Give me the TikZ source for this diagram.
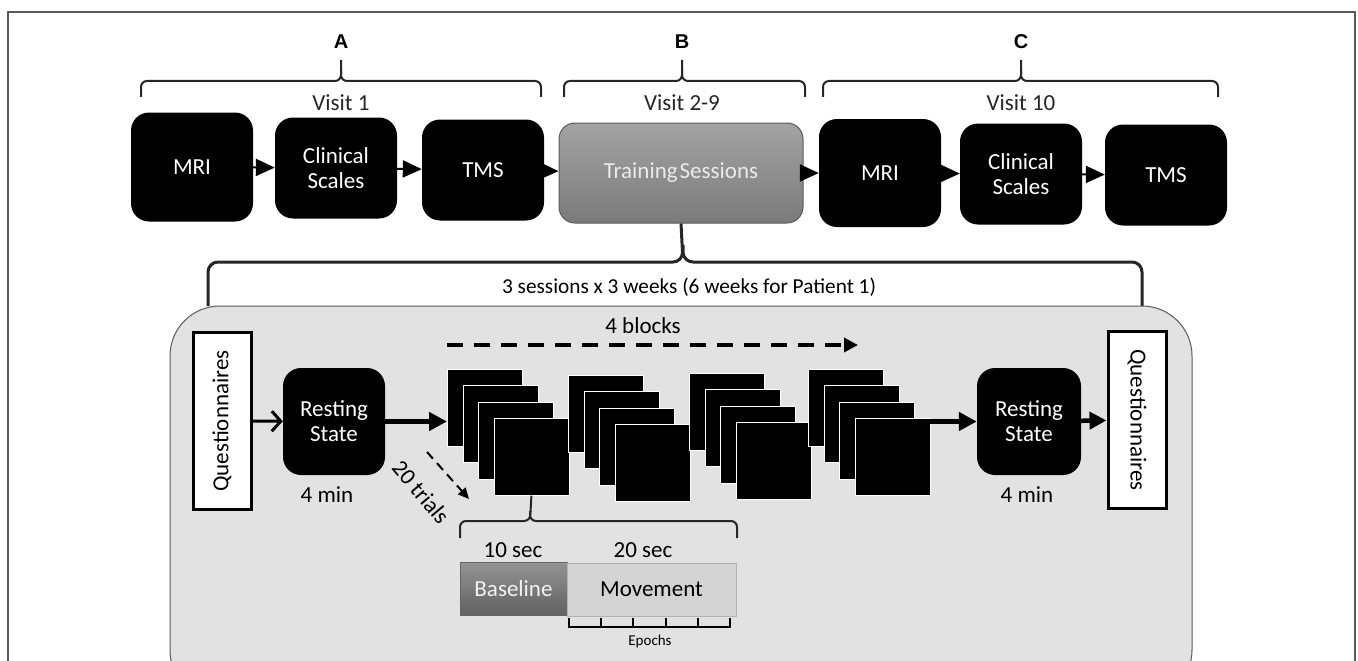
\documentclass[tikz,border=0pt]{standalone}
\usepackage{fontspec}
\setmainfont{Carlito}
\newfontfamily\headfont{Liberation Sans}
\usetikzlibrary{arrows.meta}

\definecolor{panelgray}{HTML}{E2E2E2}
\definecolor{framegray}{HTML}{5A5A5A}

\begin{document}
\begin{tikzpicture}[x=1pt,y=-1pt,
    every node/.style={font=\fontsize{23}{25}\selectfont},
    blackbox/.style={fill=black,text=white,rounded corners=18pt,align=center,
      minimum width=122pt,minimum height=101pt,inner sep=0pt},
    qbox/.style={draw=black,line width=3pt,fill=white,minimum width=177pt,
      minimum height=58pt,inner sep=0pt},
    card/.style={fill=black,draw=white,line width=0.8pt,minimum width=75pt,
      minimum height=77pt,inner sep=0pt,anchor=north west},
    smallhead/.style={-{Triangle[length=19pt,width=17pt]},line width=2pt},
    bighead/.style={-{Triangle[length=18pt,width=18pt]},line width=4.5pt},
    bracepath/.style={line width=2pt,rounded corners=6pt,draw=black!85}]
  \useasboundingbox (0,0) rectangle (1358,661);
  \draw[framegray,line width=1.2pt] (8,662) -- (8,12) -- (1355,12) -- (1355,662);

  % top row
  \node[blackbox,minimum height=109pt] (mri1) at (192,167) {MRI};
  \node[blackbox] (clin1) at (336,168) {Clinical\\Scales};
  \node[blackbox] (tms1) at (483,170) {TMS};
  \node[rounded corners=16pt,draw=framegray,line width=1pt,top color=black!36,
    bottom color=black!52,text=black!8,minimum width=244pt,minimum height=100pt]
    (train) at (681,173) {Training\hspace{2pt}Sessions};
  \node[blackbox,minimum height=108pt] (mri2) at (880,173) {MRI};
  \node[blackbox] (clin2) at (1021,174) {Clinical\\Scales};
  \node[blackbox] (tms2) at (1166,175) {TMS};
  \draw[smallhead] (mri1) -- (clin1);
  \draw[smallhead] (clin1) -- (tms1);
  \draw[smallhead] (tms1) -- (train);
  \draw[smallhead] (train) -- (mri2);
  \draw[smallhead] (mri2) -- (clin2);
  \draw[smallhead] (clin2) -- (tms2);

  \foreach \n/\a/\b/\c/\v in {A/141/341/541/Visit 1, B/564/682/805/Visit 2-9,
      C/823/1021/1218/Visit 10} {
    \node[font=\headfont\bfseries\fontsize{20}{22}\selectfont] (lab\n) at (\b,42) {\n};
    \draw[bracepath] (\a,97) |- (\b,81) -- (\b,60);
    \draw[bracepath] (\c,97) |- (\b,81) -- (\b,70);
    \node[text=black!85] (visit\n) at (\b,103) {\v};
  }

  % training session panel
  \draw[bracepath,line width=3pt,rounded corners=10pt] (208,306) |- (683,262) -- (train.south);
  \draw[bracepath,line width=3pt,rounded corners=10pt] (1142,306) |- (683,262) -- (683,245);
  \node[font=\fontsize{21.3}{23}\selectfont] (weeks) at (689,287)
    {3 sessions x 3 weeks (6 weeks for Patient 1)};
  \draw[framegray,fill=panelgray,line width=1pt,rounded corners=50pt]
    (170,306) rectangle (1192,700);

  \node[qbox,rotate=90] (quest1) at (222,421) {Questionnaires};
  \node[blackbox,minimum width=102pt,minimum height=107pt] (rest1) at (334,421.5) {Resting\\State};
  \node (min1) at (327,495) {4 min};
  \node[blackbox,minimum width=104pt,minimum height=107pt] (rest2) at (1029,421.5) {Resting\\State};
  \node (min2) at (1027,495) {4 min};
  \node[qbox,rotate=-90] (quest2) at (1137,420) {Questionnaires};

  \foreach \s/\x/\y in {1/447/369, 2/568/375, 3/689/373, 4/808/369}
    \foreach \k in {1,...,4}
      \node[card] (blk\s-\k) at ({\x+15.5*(\k-1)},{\y+16.3*(\k-1)}) {};

  \draw[-{Straight Barb[length=9pt,width=20pt]},line width=3pt] (quest1) -- (rest1);
  \draw[bighead] (rest1.east) -- (rest1.east -| blk1-1.west);
  \draw[bighead] (rest2.west -| blk4-4.east) -- (rest2.west);
  \draw[-{Triangle[length=17pt,width=17pt]},line width=4.5pt] (rest2) -- (quest2);

  \node (blocks) at (643,326) {4 blocks};
  \coordinate (blkstart) at (447,345);
  \coordinate (blkend) at (858,345);
  \draw[-{Triangle[length=14pt,width=14pt]},line width=4pt,dash pattern=on 16pt off 11pt]
    (blkstart) -- (blkend);

  \coordinate (trialstart) at (427,452);
  \coordinate (trialend) at (469,499);
  \draw[-{Triangle[length=11pt,width=10pt]},line width=2pt,dash pattern=on 9pt off 6pt]
    (trialstart) -- (trialend);
  \node[rotate=-50] (trials) at (421,492) {20 trials};

  % one trial
  \draw[bracepath] (460,538) |- (530,521) -- (blk1-4.south);
  \draw[bracepath] (737,538) |- (530,521) -- (530,511);
  \node (sec10) at (513,550) {10 sec};
  \node (sec20) at (643,550) {20 sec};
  \node[draw=black!60,top color=black!42,bottom color=black!62,text=black!5,
    minimum width=107pt,minimum height=53pt,inner sep=0pt] (base) at (513.5,588.5) {Baseline};
  \node[draw=black!30,fill=black!17,minimum width=169pt,minimum height=53pt,
    inner sep=0pt] (move) at (651.5,589.5) {Movement};
  \draw[line width=1.5pt] (569,618) -- (569,627) -- (730,627) -- (730,618);
  \foreach \t in {601,633,666,698}
    \draw[line width=1.5pt] (\t,618) -- (\t,627);
  \node[font=\fontsize{15}{17}\selectfont] (epochs) at (650,641) {Epochs};
\end{tikzpicture}
\end{document}
